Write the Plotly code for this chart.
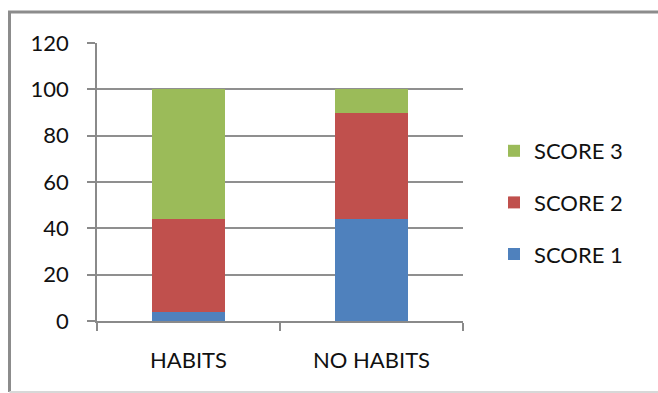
import plotly.graph_objects as go

categories = ["HABITS", "NO HABITS"]
score1 = [4, 44]
score2 = [40, 46]
score3 = [56, 10]
series_names = ["SCORE 1", "SCORE 2", "SCORE 3"]
colors = ["#4F81BD", "#C0504D", "#9BBB59"]
y_ticks = [0, 20, 40, 60, 80, 100, 120]

W, H = 658, 393
ml, mr, mt, mb = 97, 195, 43, 72

fig = go.Figure()
for i, (name, vals, col) in enumerate(zip(series_names, [score1, score2, score3], colors)):
    fig.add_trace(go.Bar(x=categories, y=vals, name=name, marker_color=col,
                         marker_line_width=0, legendgroup=name,
                         legendrank=len(series_names) - i))

pw = W - ml - mr
ph = H - mt - mb
def px_x(p): return (p - ml) / pw
def px_y(p): return (H - mb - p) / ph

fig.update_layout(
    width=W, height=H,
    margin=dict(l=ml, r=mr, t=mt, b=mb),
    barmode="stack", bargap=0.596,
    plot_bgcolor="white", paper_bgcolor="white",
    font=dict(family="Lato", size=22, color="#111111"),
    legend=dict(x=px_x(494), y=px_y(130), xanchor="left", yanchor="top",
                traceorder="grouped", tracegroupgap=20,
                font=dict(family="Lato", size=22, color="#111111"),
                bgcolor="rgba(0,0,0,0)"),
    xaxis=dict(showline=True, linecolor="#8a8a8a", linewidth=1.5,
               ticks="outside", tickson="boundaries", ticklen=8,
               tickcolor="#8a8a8a", tickwidth=1.5, ticklabelstandoff=19,
               showgrid=False, fixedrange=True),
    yaxis=dict(range=[0, 120], tickvals=y_ticks, showline=True,
               linecolor="#8a8a8a", linewidth=1.5, ticks="outside", ticklen=8,
               tickcolor="#8a8a8a", tickwidth=1.5, showgrid=True,
               gridcolor="#8f8f8f", gridwidth=1.5, zeroline=False,
               ticklabelstandoff=14),
)

# outer chart frame (left/top dark, bottom light)
fig.add_shape(type="path", xref="paper", yref="paper",
              path=f"M {px_x(9.5)},{px_y(392)} L {px_x(9.5)},{px_y(12)} L {px_x(700)},{px_y(12)}",
              line=dict(color="#8c8c8c", width=3))
fig.add_shape(type="line", xref="paper", yref="paper",
              x0=px_x(9.5), x1=px_x(700), y0=px_y(392), y1=px_y(392),
              line=dict(color="#d8d8d8", width=2))

fig.write_html("out.html")
